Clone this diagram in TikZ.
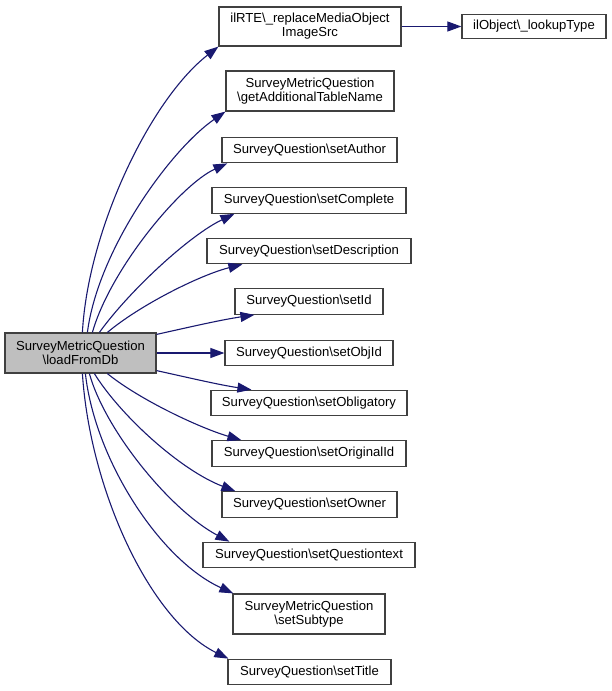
\documentclass[tikz,border=0pt]{standalone}
\usepackage{fontspec}
\setmainfont{Liberation Sans}
\usetikzlibrary{arrows.meta,calc}
\definecolor{edgeblue}{HTML}{191970}
\definecolor{boxline}{HTML}{404040}
\definecolor{mainfill}{HTML}{BFBFBF}
\tikzset{
  fn/.style={draw=boxline, line width=1.2bp, fill=white, inner sep=0pt, align=center,
    font=\fontsize{13.1bp}{14bp}\selectfont, anchor=center},
  mainfn/.style={fn, fill=mainfill},
  tipshape/.tip={Triangle[length=14bp,width=10bp]},
  call/.style={draw=edgeblue, line width=1.1bp, arrows={-tipshape}}
}
\begin{document}
\begin{tikzpicture}[x=1bp,y=-1bp]
\useasboundingbox (0,0) rectangle (612,691);
% nodes
\node[mainfn, minimum width=151bp, minimum height=40bp] (main) at (80.5,353) {SurveyMetricQuestion\\\textbackslash loadFromDb};
\node[fn, minimum width=182bp, minimum height=39bp] (rte) at (310,26.5) {ilRTE\textbackslash \_replaceMediaObject\\ImageSrc};
\node[fn, minimum width=144bp, minimum height=24bp] (lookup) at (534,26.5) {ilObject\textbackslash \_lookupType};
\node[fn, minimum width=168bp, minimum height=40bp] (addtab) at (310,91) {SurveyMetricQuestion\\\textbackslash getAdditionalTableName};
\node[fn, minimum width=175bp, minimum height=25.5bp] (author) at (309.5,150) {SurveyQuestion\textbackslash setAuthor};
\node[fn, minimum width=194bp, minimum height=25.5bp] (complete) at (309,200.5) {SurveyQuestion\textbackslash setComplete};
\node[fn, minimum width=204bp, minimum height=25.5bp] (descr) at (309,251) {SurveyQuestion\textbackslash setDescription};
\node[fn, minimum width=148bp, minimum height=25.5bp] (setid) at (309,301.5) {SurveyQuestion\textbackslash setId};
\node[fn, minimum width=168bp, minimum height=25.5bp] (objid) at (309,353) {SurveyQuestion\textbackslash setObjId};
\node[fn, minimum width=196bp, minimum height=25.5bp] (oblig) at (309,403) {SurveyQuestion\textbackslash setObligatory};
\node[fn, minimum width=194bp, minimum height=25.5bp] (orig) at (309,453.5) {SurveyQuestion\textbackslash setOriginalId};
\node[fn, minimum width=175bp, minimum height=25.5bp] (owner) at (309.5,504.5) {SurveyQuestion\textbackslash setOwner};
\node[fn, minimum width=212bp, minimum height=25.5bp] (qtext) at (309,555) {SurveyQuestion\textbackslash setQuestiontext};
\node[fn, minimum width=152bp, minimum height=40bp] (subtype) at (309,614) {SurveyMetricQuestion\\\textbackslash setSubtype};
\node[fn, minimum width=163bp, minimum height=25.5bp] (title) at (309.5,672) {SurveyQuestion\textbackslash setTitle};
% edges
\draw[call] ($(main.north west)+(78,0)$) .. controls (88,230) and (150,100) .. (rte.south west);
\draw[call] ($(main.north west)+(83,0)$) .. controls (98,250) and (170,150) .. (addtab.south west);
\draw[call] ($(main.north west)+(88,0)$) .. controls (110,270) and (180,185) .. ($(author.south west)+(6,0)$);
\draw[call] ($(main.north west)+(95,0)$) .. controls (130,290) and (190,235) .. ($(complete.south west)+(23,0)$);
\draw[call] ($(main.north west)+(103,0)$) .. controls (140,305) and (200,275) .. ($(descr.south west)+(36,0)$);
\draw[call] ($(main.north east)+(0,2)$) .. controls (190,327) and (220,320) .. ($(setid.south west)+(20,0)$);
\draw[call] (main.east) -- (objid.west);
\draw[call] ($(main.south east)+(0,-3)$) .. controls (190,378) and (220,385) .. ($(oblig.north west)+(41,0)$);
\draw[call] ($(main.south west)+(103,0)$) .. controls (140,400) and (200,428) .. ($(orig.north west)+(30,0)$);
\draw[call] ($(main.south west)+(90,0)$) .. controls (120,415) and (180,470) .. ($(owner.north west)+(14,0)$);
\draw[call] ($(main.south west)+(85,0)$) .. controls (105,430) and (170,510) .. ($(qtext.north west)+(27,0)$);
\draw[call] ($(main.south west)+(81,0)$) .. controls (95,460) and (160,560) .. ($(subtype.north west)+(1,0)$);
\draw[call] ($(main.south west)+(78,0)$) .. controls (90,490) and (150,620) .. ($(title.north west)+(1,0)$);
\draw[call] (rte.east) -- (lookup.west);
\end{tikzpicture}
\end{document}
